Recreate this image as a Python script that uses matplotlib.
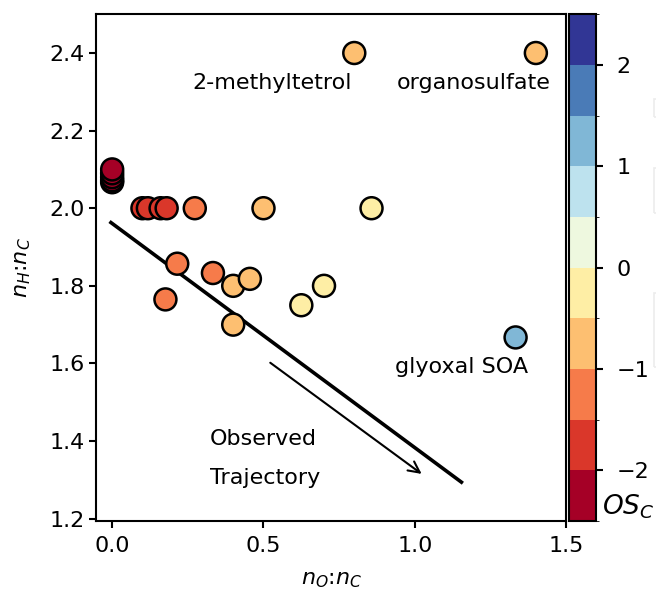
import numpy as np
import matplotlib
matplotlib.use("Agg")
import matplotlib.pyplot as plt
import matplotlib.colors as mcolors
import matplotlib.patches as mpatches

# O:C and H:C ratios with carbon oxidation state for each compound
o_to_c = [0.0, 0.0, 0.0, 0.0, 0.0,
          0.1, 0.118, 0.16, 0.18, 0.273, 0.5, 0.857,
          0.215, 0.176, 0.333, 0.4, 0.455, 0.4, 0.625, 0.7,
          0.8, 1.4, 1.333]
h_to_c = [2.067, 2.072, 2.08, 2.09, 2.1,
          2.0, 2.0, 2.0, 2.0, 2.0, 2.0, 2.0,
          1.857, 1.765, 1.833, 1.8, 1.818, 1.7, 1.75, 1.8,
          2.4, 2.4, 1.667]
os_c = [-2.07, -2.07, -2.08, -2.09, -2.1,
        -1.8, -1.76, -1.68, -1.64, -1.45, -1.0, -0.29,
        -1.43, -1.41, -1.17, -1.0, -0.91, -0.9, -0.5, -0.4,
        -0.8, -0.8, 1.0]

# labelled compounds: text, x, y
labels = ["2-methyltetrol", "organosulfate", "glyoxal SOA"]
label_x = [0.53, 1.194, 1.153]
label_y = [2.323, 2.323, 1.59]

# observed trajectory line and arrow
traj_x = [-0.004, 1.154]
traj_y = [1.963, 1.294]
arrow_start = (0.515, 1.606)
arrow_end = (1.03, 1.311)

fs = 16

plt.rcParams['axes.linewidth'] = 1.5
plt.rcParams['xtick.major.width'] = 1.5
plt.rcParams['ytick.major.width'] = 1.5
plt.rcParams['xtick.major.size'] = 5
plt.rcParams['ytick.major.size'] = 5

fig = plt.figure(figsize=(6.56, 5.92), dpi=100)
ax = fig.add_axes([0.147, 0.12, 0.716, 0.856])

# Discrete colour scale for oxidation state
bounds = np.arange(-2.5, 2.51, 0.5)
cmap = plt.get_cmap('RdYlBu', 10)
norm = mcolors.BoundaryNorm(bounds, cmap.N)

# Trajectory
ax.plot(traj_x, traj_y, color='black', lw=2.6, zorder=1)
ax.annotate("", xy=arrow_end, xytext=arrow_start,
            arrowprops=dict(arrowstyle='->', color='black', lw=1.5,
                            mutation_scale=20))

# Compounds
sc = ax.scatter(o_to_c, h_to_c, c=os_c, cmap=cmap, norm=norm, s=250,
                edgecolors='black', linewidths=1.8, zorder=3)

for txt, lx, ly in zip(labels, label_x, label_y):
    ax.text(lx, ly, txt, fontsize=fs, ha='center', va='center')
ax.text(0.5, 1.405, "Observed", fontsize=fs, ha='center', va='center')
ax.text(0.505, 1.305, "Trajectory", fontsize=fs, ha='center', va='center')

ax.set_xlim(-0.052, 1.5)
ax.set_ylim(1.194, 2.5)
ax.set_xticks([0.0, 0.5, 1.0, 1.5])
ax.set_yticks([1.2, 1.4, 1.6, 1.8, 2.0, 2.2, 2.4])
ax.tick_params(labelsize=fs)
ax.tick_params(axis='x', pad=6)
ax.set_xlabel("$n_O$:$n_C$", fontsize=fs, labelpad=10)
ax.set_ylabel("$n_H$:$n_C$", fontsize=fs, labelpad=12)

# Colour bar
cax = fig.add_axes([0.868, 0.12, 0.040, 0.856])
cbar = fig.colorbar(sc, cax=cax, boundaries=bounds, ticks=[-2, -1, 0, 1, 2])
cbar.outline.set_linewidth(1.5)
cbar.ax.tick_params(labelsize=fs, pad=10, width=1.5, length=5)
fig.text(0.917, 1 - 507 / 592, "$OS_C$", fontsize=19, ha='left', va='center')

# faint edges of cropped boxes at the right border
for y0, y1 in [(99, 117), (168, 213), (293, 367)]:
    fig.patches.append(mpatches.Rectangle((654 / 656, 1 - y1 / 592), 0.02,
                                          (y1 - y0) / 592,
                                          transform=fig.transFigure,
                                          facecolor='none',
                                          edgecolor='#ececec', lw=1.2))

plt.savefig("out.png", dpi=100)
